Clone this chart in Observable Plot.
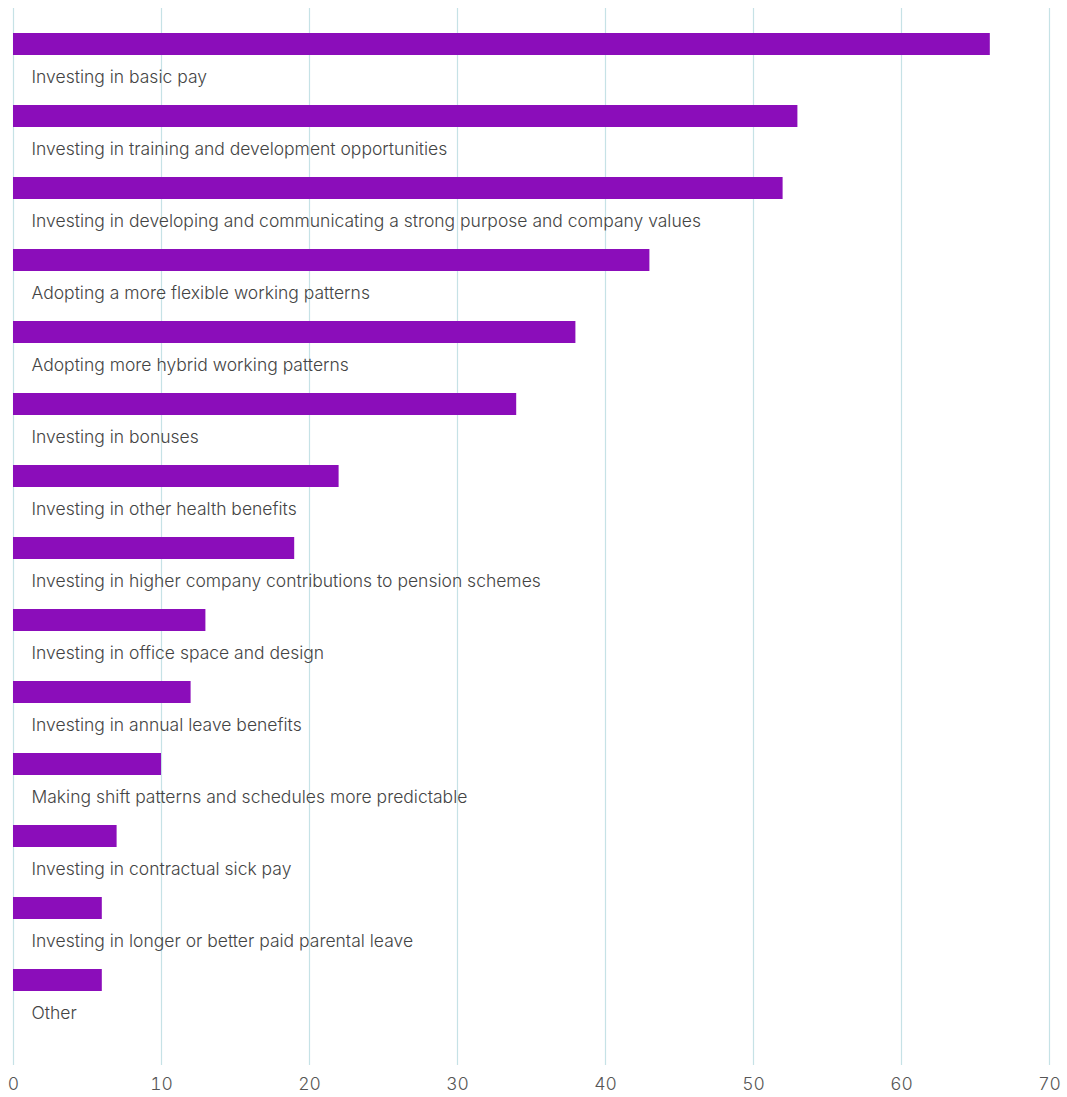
<!DOCTYPE html>
<html>
<head>
<meta charset="utf-8">
<script src="https://cdn.jsdelivr.net/npm/d3@7"></script>
<script src="https://cdn.jsdelivr.net/npm/@observablehq/plot@0.6"></script>
<style>
  html, body { margin: 0; padding: 0; background: #fff; }
  #chart svg { display: block; }
</style>
</head>
<body>
<div id="chart"></div>
<script>
const categories = [
  "Investing in basic pay",
  "Investing in training and development opportunities",
  "Investing in developing and communicating a strong purpose and company values",
  "Adopting a more flexible working patterns",
  "Adopting more hybrid working patterns",
  "Investing in bonuses",
  "Investing in other health benefits",
  "Investing in higher company contributions to pension schemes",
  "Investing in office space and design",
  "Investing in annual leave benefits",
  "Making shift patterns and schedules more predictable",
  "Investing in contractual sick pay",
  "Investing in longer or better paid parental leave",
  "Other"
];
const values = [66, 53, 52, 43, 38, 34, 22, 19, 13, 12, 10, 7, 6, 6];
const xTicks = [0, 10, 20, 30, 40, 50, 60, 70];

const data = categories.map((c, i) => ({category: c, value: values[i]}));

const chart = Plot.plot({
  width: 1067,
  height: 1097,
  marginLeft: 13,
  marginRight: 18,
  marginTop: 8,
  marginBottom: 32,
  style: {fontFamily: "Inter, sans-serif", fontWeight: 300, fontSize: "17.5px", color: "#444", background: "#fff"},
  x: {domain: [0, 70], ticks: xTicks, label: null},
  y: {domain: categories, paddingInner: 0, paddingOuter: 0.31, axis: null},
  marks: [
    Plot.gridX(xTicks, {stroke: "#c6e2e6", strokeOpacity: 1, strokeWidth: 1.2}),
    Plot.axisX(xTicks, {tickSize: 0, tickPadding: 12, fontSize: 17.5, fill: "#555", label: null}),
    Plot.barX(data, {x: "value", y: "category", fill: "#8b0dba", insetBottom: 50}),
    Plot.text(data, {x: 0, y: "category", text: "category", textAnchor: "start", dx: 18, dy: 8, fill: "#444", fontSize: 17.5})
  ]
});
document.getElementById("chart").appendChild(chart);
</script>
</body>
</html>
